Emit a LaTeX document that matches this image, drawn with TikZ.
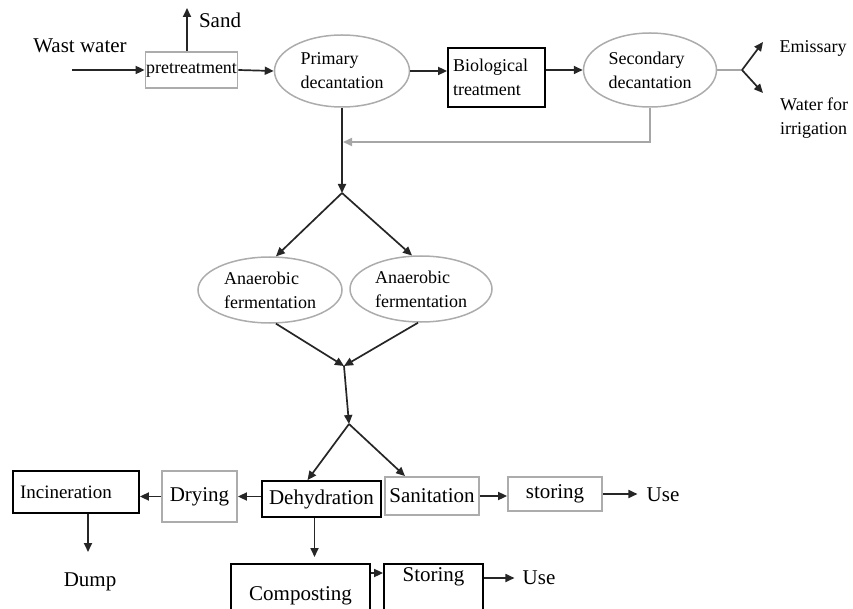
\documentclass[tikz,border=0pt]{standalone}
\usepackage{fontspec}
\setmainfont{Liberation Serif}
\usetikzlibrary{arrows.meta,shapes.geometric}

\begin{document}
\begin{tikzpicture}[x=1pt,y=-1pt,>={Triangle[length=9pt,width=8pt]},
    flow/.style={->,line width=1.7pt,black!85},
    grayline/.style={line width=1.7pt,gray!70},
    bigtxt/.style={font=\fontsize{21}{25}\selectfont},
    smalltxt/.style={font=\fontsize{18}{24}\selectfont},
    blackbox/.style={draw,line width=1.8pt,inner sep=3pt,bigtxt},
    graybox/.style={draw=gray!65,line width=1.8pt,inner sep=3pt,bigtxt},
    oval/.style={ellipse,draw=gray!65,line width=1.5pt,inner sep=0pt,
                 smalltxt,align=left}]
  \useasboundingbox (0,0) rectangle (853,609);
  \clip (0,0) rectangle (853,609);

  % water line
  \node[bigtxt] (wast) at (80,46) {Wast water};
  \coordinate (win) at (72,70);
  \node[graybox,smalltxt,minimum width=89pt,minimum height=36pt,inner sep=0.5pt]
    (pre) at (191.5,70) {pretreatment};
  \coordinate (sandtip) at (187,8);
  \node[bigtxt] (sand) at (220,20) {Sand};
  \node[oval,minimum width=135pt,minimum height=72pt] (prim) at (342,71)
    {Primary\\decantation};
  \node[blackbox,smalltxt,align=left,text width=87pt,inner xsep=5pt,
        minimum height=59pt] (bio) at (496.5,77.5) {Biological\\treatment};
  \node[oval,minimum width=133pt,minimum height=74pt] (sec) at (650,70)
    {Secondary\\decantation};
  \coordinate (split) at (742,70);
  \coordinate (emitip) at (763,42);
  \coordinate (irrtip) at (763,93);
  \node[smalltxt] (emi) at (813,48) {Emissary};
  \node[smalltxt,align=left,anchor=west,inner sep=0pt] (irr) at (780,118)
    {Water for\\irrigation};

  % sludge line
  \coordinate (loopin) at (343,142);
  \coordinate (fork1) at (342,193);
  \node[oval,minimum width=144pt,minimum height=66pt] (anl) at (270,290)
    {Anaerobic\\fermentation};
  \node[oval,minimum width=142pt,minimum height=66pt] (anr) at (421,289)
    {Anaerobic\\fermentation};
  \coordinate (merge) at (344,366);
  \coordinate (fork2) at (349,424);
  \node[blackbox,minimum width=119pt,minimum height=36pt,inner sep=1pt]
    (dehyd) at (321.5,499) {Dehydration};
  \node[graybox,minimum width=94pt,minimum height=38pt,inner sep=1pt]
    (sani) at (432,496) {Sanitation};
  \node[graybox,minimum width=94pt,minimum height=34pt] (stor) at (555,494)
    {storing};
  \node[bigtxt,inner xsep=9pt] (use) at (663,495) {Use};
  \node[graybox,minimum width=75pt,minimum height=51pt] (dry) at (199.5,496.5)
    {Drying};
  \node[blackbox,font=\fontsize{19}{23}\selectfont,align=left,text width=112pt,
        inner xsep=7pt,minimum height=42pt] (inc) at (76,492) {Incineration};
  \coordinate (dumptip) at (88,552);
  \node[bigtxt] (dump) at (90,582) {Dump};
  \node[blackbox,anchor=north,minimum width=139pt,text height=34pt,
        text depth=30pt,inner ysep=3pt] (comp) at (300.5,563) {Composting};
  \node[blackbox,anchor=north,minimum width=99pt,text height=15pt,
        text depth=50pt,inner ysep=3pt] (stor2) at (433.5,563) {Storing};
  \node[bigtxt,inner xsep=8pt] (use2) at (539,578) {Use};

  % connectors
  \draw[flow] (win) -- (pre.west);
  \draw[flow] (pre.north -| sandtip) -- (sandtip);
  \draw[flow] (pre.east) -- (prim.west);
  \draw[flow] (prim.east) -- (prim.east -| bio.west);
  \draw[flow] (bio.east |- sec.west) -- (sec.west);
  \draw[grayline] (sec.east) -- (split);
  \draw[flow] (split) -- (emitip);
  \draw[flow] (split) -- (irrtip);
  \draw[grayline,->] (sec.south) |- (loopin);
  \draw[flow] (prim.south) -- (fork1);
  \draw[flow] (fork1) -- (anl.80);
  \draw[flow] (fork1) -- (anr.105);
  \draw[flow] (anl.-80) -- (merge);
  \draw[flow] (anr.-95) -- (merge);
  \draw[flow] (merge) -- (fork2);
  \draw[flow] (fork2) -- ([xshift=-14pt]dehyd.north);
  \draw[flow] (fork2) -- ([xshift=-27pt]sani.north);
  \draw[flow] (sani.east) -- (sani.east -| stor.west);
  \draw[flow] (stor.east) -- (stor.east -| use.west);
  \draw[flow] (dry.east -| dehyd.west) -- (dry.east);
  \draw[flow] (dry.west) -- (dry.west -| inc.east);
  \draw[flow] ([xshift=12pt]inc.south) -- (dumptip);
  \draw[flow,shorten >=6pt] ([xshift=-7pt]dehyd.south)
    -- ([xshift=-7pt]dehyd.south |- comp.north);
  \draw[flow] ([yshift=-10pt]comp.north east) -- ([yshift=-10pt]stor2.north west);
  \draw[flow] (stor2.east |- use2) -- (use2.west);
\end{tikzpicture}
\end{document}
